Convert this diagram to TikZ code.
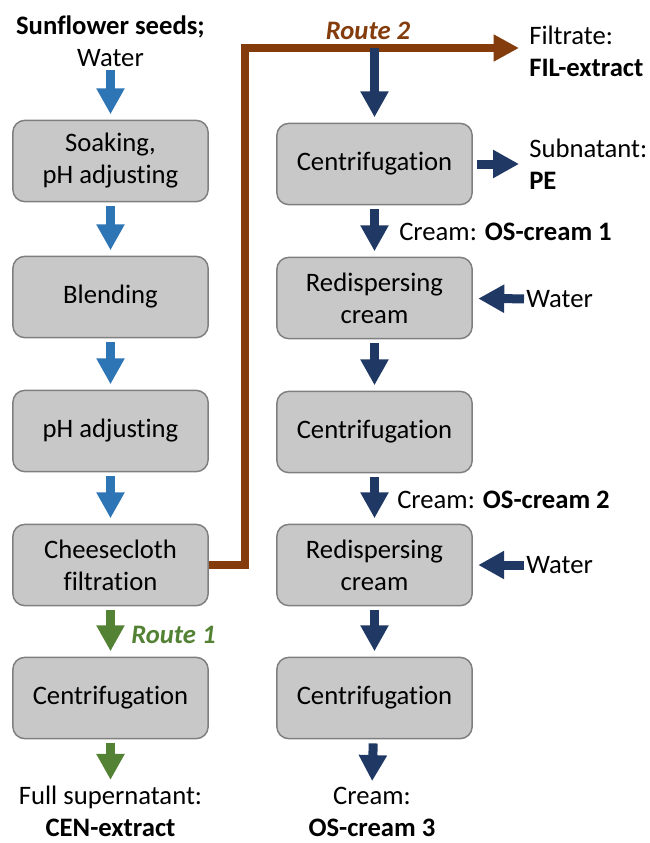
\documentclass[tikz,border=0pt]{standalone}
\usepackage{fontspec}
\setmainfont{Carlito}[Ligatures=NoCommon]
\usepackage{xcolor}
\usetikzlibrary{arrows.meta}

\definecolor{flowblue}{RGB}{46,117,182}
\definecolor{flownavy}{RGB}{31,56,100}
\definecolor{flowgreen}{RGB}{84,130,53}
\definecolor{routebrown}{RGB}{132,60,12}
\definecolor{boxfill}{RGB}{200,200,200}
\definecolor{boxdraw}{RGB}{127,127,127}

\tikzset{
  stepbox/.style={draw=boxdraw, fill=boxfill, line width=1.1pt, rounded corners=9pt,
    minimum width=146.5pt, minimum height=61pt, align=center, inner sep=0pt,
    font=\fontsize{20}{24}\selectfont},
  label text/.style={inner sep=0pt, align=center, font=\fontsize{20}{24}\selectfont},
  flow/.style={line width=6.75pt, -{Triangle[width=20pt,length=19.5pt]},
    shorten <=3pt, shorten >=4pt},
}

\begin{document}
\begin{tikzpicture}[x=0.75pt,y=0.75pt,yscale=-1.,xscale=1.]
    \path[use as bounding box] (0,0) rectangle (650,843); %set diagram to 650 x 843

    %Shape: Rounded Rect - left column
    \node [stepbox] (soak) at (110.5,161) {Soaking,\\pH adjusting};
    \node [stepbox] (blend) at (110.5,297) {Blending};
    \node [stepbox] (phadj) at (110.5,431) {pH adjusting};
    \node [stepbox] (cheese) at (110.5,565) {Cheesecloth\\filtration};
    \node [stepbox] (cenl) at (110.5,698) {Centrifugation};

    %Shape: Rounded Rect - right column
    \node [stepbox] (cenr1) at (374.5,164) {Centrifugation};
    \node [stepbox] (redisp1) at (374.5,298) {Redispersing\\cream};
    \node [stepbox] (cenr2) at (374.5,432) {Centrifugation};
    \node [stepbox] (redisp2) at (374.5,565) {Redispersing\\cream};
    \node [stepbox] (cenr3) at (374.5,698) {Centrifugation};

    % Text Node (base = last line)
    \node [label text, anchor=base] (seeds) at (110.5,66) {\textbf{Sunflower seeds;}\\Water};
    % Text Node
    \node [label text, anchor=base] (cenext) at (110.5,836) {Full supernatant:\\\textbf{CEN-extract}};
    % Text Node
    \node [label text, anchor=base west, text=flowgreen] (route1) at (131,643) {\textbf{\itshape Route 1}};
    % Text Node
    \node [label text, anchor=base, text=routebrown] (route2) at (368,39) {\textbf{\itshape Route 2}};
    % Text Node
    \node [label text, anchor=base west, align=left] (filext) at (529,76) {Filtrate:\\\textbf{FIL-extract}};
    % Text Node
    \node [label text, anchor=base west, align=left] (pe) at (529,189) {Subnatant:\\\textbf{PE}};
    % Text Node
    \node [label text, anchor=base west] (cream1) at (399,240) {Cream: \textbf{OS-cream 1}};
    % Text Node
    \node [label text, anchor=base west] (cream2) at (397,508) {Cream: \textbf{OS-cream 2}};
    % Text Node
    \node [label text, anchor=base] (cream3) at (372,836) {Cream:\\\textbf{OS-cream 3}};
    % Text Node
    \node [label text, anchor=west] (water1) at (526,299) {Water};
    % Text Node
    \node [label text, anchor=west] (water2) at (526,565) {Water};

    %Straight Lines - route 2
    \coordinate (bend1) at (245,565);
    \coordinate (bend2) at (245,48);
    \coordinate (split) at (374.5,48);
    \draw [routebrown, line width=6.4pt, -{Triangle[width=19pt,length=19pt]}, shorten >=7.5pt]
      (cheese.east) -- (bend1) -- (bend2) -- (filext.west |- bend2);

    %Straight Lines - left column
    \draw [flow, flowblue] (seeds.south) -- (soak.north);
    \draw [flow, flowblue] (soak) -- (blend);
    \draw [flow, flowblue] (blend) -- (phadj);
    \draw [flow, flowblue] (phadj) -- (cheese);
    \draw [flow, flowgreen] (cheese) -- (cenl);
    \draw [flow, flowgreen] (cenl) -- (cenext.north);

    %Straight Lines - right column
    \draw [flow, flownavy, shorten <=0pt] (split) -- (cenr1.north);
    \draw [flow, flownavy, shorten >=7.5pt] (cenr1) -- (cenr1.east -| pe.west);
    \draw [flow, flownavy] (cenr1) -- (redisp1);
    \draw [flow, flownavy] (redisp1) -- (cenr2);
    \draw [flow, flownavy] (cenr2) -- (redisp2);
    \draw [flow, flownavy] (redisp2) -- (cenr3);
    \draw [flow, flownavy] (cenr3) -- (cream3.north);
    \draw [flow, flownavy, shorten <=1.5pt] (water1) -- (redisp1);
    \draw [flow, flownavy, shorten <=1.5pt] (water2) -- (redisp2);

\end{tikzpicture}
\end{document}
